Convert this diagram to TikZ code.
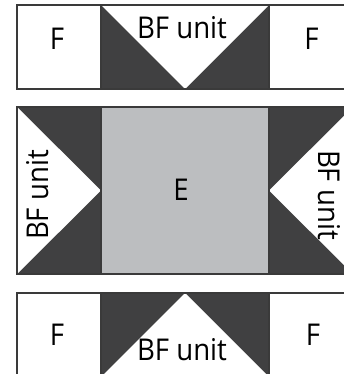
\documentclass[tikz,border=0pt]{standalone}
\usepackage{fontspec}
\setmainfont{Open Sans}[FakeStretch=0.92]
\definecolor{darkfill}{HTML}{404041}
\definecolor{lightfill}{HTML}{BCBEC0}
\definecolor{edge}{HTML}{3A3A3A}
\begin{document}
\begin{tikzpicture}[x=1pt,y=-1pt,
  lbl/.style={inner sep=0pt,anchor=base,font=\fontsize{30}{30}\selectfont},
  cell/.style={draw=edge,line width=1.2pt},
  dark/.style={fill=darkfill},
  hole/.style={fill=white}]
\useasboundingbox (0,0) rectangle (344,374);
\clip (0,0) rectangle (344,374);
% top row
\fill[dark] (101,5) rectangle (269,89);
\fill[hole] (101,5) -- (269,5) -- (185,89) -- cycle;
\draw[cell] (17,5) rectangle (101,89);
\draw[cell] (101,5) rectangle (269,89);
\draw[cell] (269,5) rectangle (353,89);
% middle row
\fill[dark] (17,107) rectangle (101,274);
\fill[hole] (17,107) -- (17,274) -- (101,190.5) -- cycle;
\fill[lightfill] (101,107) rectangle (269,274);
\fill[dark] (269,107) rectangle (353,274);
\fill[hole] (353,107) -- (353,274) -- (269,190.5) -- cycle;
\draw[cell] (17,107) rectangle (101,274);
\draw[cell] (101,107) rectangle (269,274);
\draw[cell] (269,107) rectangle (353,274);
% bottom row
\fill[dark] (101,293) rectangle (269,377);
\fill[hole] (185,293) -- (101,377) -- (269,377) -- cycle;
\draw[cell] (17,293) rectangle (101,377);
\draw[cell] (101,293) rectangle (269,377);
\draw[cell] (269,293) rectangle (353,377);
% labels
\node[lbl] (ftl) at (57,50) {F};
\node[lbl] (ftr) at (311.5,50) {F};
\node[lbl] (bft) at (182,38.3) {BF unit};
\node[lbl] (e) at (181,200) {E};
\node[lbl,rotate=90] (bfl) at (48.3,195) {BF unit};
\node[lbl,rotate=-90] (bfr) at (318.5,195) {BF unit};
\node[lbl] (fbl) at (57,345) {F};
\node[lbl] (fbr) at (313,345) {F};
\node[lbl] (bfb) at (182,360) {BF unit};
\end{tikzpicture}
\end{document}
